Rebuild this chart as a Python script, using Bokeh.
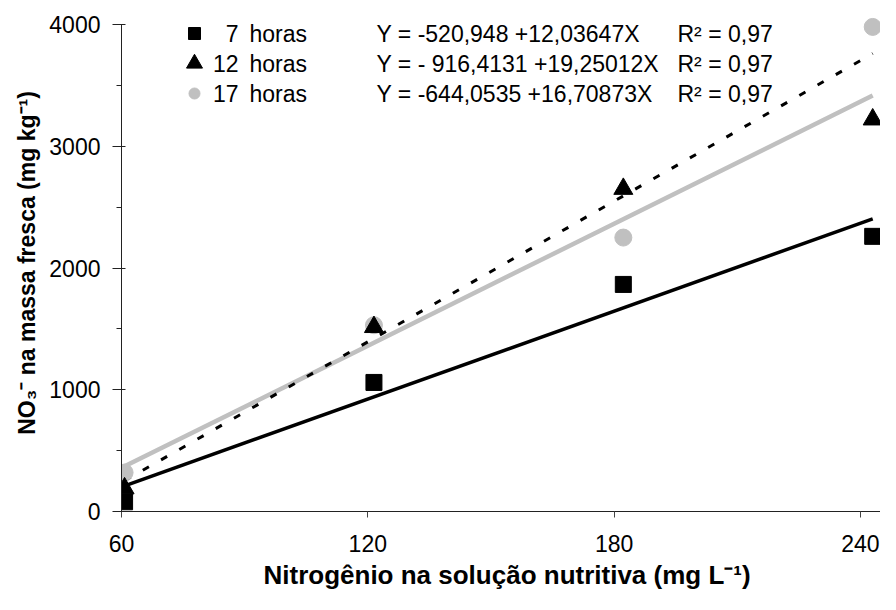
from bokeh.plotting import figure
from bokeh.models import FixedTicker, Range1d, ColumnDataSource, Title
from bokeh.embed import file_html
from bokeh.resources import INLINE
from bokeh.core.properties import value

# ---------------- data ----------------
x_nitrogen = [60.75, 121.5, 182.25, 243.0]
y_7h = [80, 1060, 1865, 2260]
y_12h = [190, 1515, 2650, 3220]
y_17h = [320, 1530, 2250, 3980]

series_hours = ["7", "12", "17"]
intercepts = [-520.948, -916.4131, -644.0535]
slopes = [12.03647, 19.25012, 16.70873]
equations = ["Y = -520,948 +12,03647X",
             "Y = - 916,4131 +19,25012X",
             "Y = -644,0535 +16,70873X"]
r2_labels = ["R\u00b2 = 0,97", "R\u00b2 = 0,97", "R\u00b2 = 0,97"]

x_ticks = [60, 120, 180, 240]
y_ticks = [0, 1000, 2000, 3000, 4000]
y_minor = [500, 1500, 2500, 3500]

# ---------------- layout constants ----------------
W, H = 880, 594
FL, FR, FT, FB = 121, 880, 14, 511          # frame edges in figure pixels
PX_PER_UNIT_Y = 487 / 4000                   # 4000 sits 487 px above 0
X0, X1 = 60, 244.9
Y0 = 0
Y1 = (FB - FT) / PX_PER_UNIT_Y               # a little head-room above 4000
FONT = "Liberation Sans"
GRAY = "#c0c0c0"


def dx(px):
    return X0 + (px - FL) * (X1 - X0) / (FR - FL)


def dy(py):
    return Y0 + (FB - py) * (Y1 - Y0) / (FB - FT)


p = figure(width=W, height=H, output_backend="svg", toolbar_location=None,
           x_range=Range1d(X0, X1), y_range=Range1d(Y0, Y1),
           min_border_left=FL, min_border_right=W - FR,
           min_border_top=FT, min_border_bottom=H - FB)
p.outline_line_color = None
p.xgrid.visible = False
p.ygrid.visible = False
p.background_fill_color = "white"
p.border_fill_color = "white"

# ---------------- axes ----------------
xa = p.xaxis[0]
xa.ticker = FixedTicker(ticks=x_ticks, minor_ticks=[])
xa.axis_line_color = "#222222"
xa.major_tick_line_color = "#444444"
xa.major_tick_out = 6
xa.major_tick_in = 0
xa.minor_tick_line_color = None
xa.major_label_text_font = FONT
xa.major_label_text_font_size = "23px"
xa.major_label_text_color = "black"
xa.major_label_standoff = 17

ya = p.yaxis[0]
ya.ticker = FixedTicker(ticks=y_ticks, minor_ticks=y_minor)
ya.bounds = (y_ticks[0], y_ticks[-1])
ya.axis_line_color = "#222222"
ya.major_tick_line_color = "#222222"
ya.major_tick_out = 9
ya.major_tick_in = 4
ya.minor_tick_line_color = "#222222"
ya.minor_tick_out = 5
ya.minor_tick_in = 0
ya.major_label_text_font = FONT
ya.major_label_text_font_size = "23px"
ya.major_label_text_color = "black"
ya.major_label_standoff = 12
ya.axis_label = "NO\u2083\u207b na massa fresca (mg kg\u207b\u00b9)"
ya.axis_label_text_font = FONT
ya.axis_label_text_font_style = "bold"
ya.axis_label_text_font_size = "23px"
ya.axis_label_text_color = "black"
ya.axis_label_standoff = 6

xtitle = Title(text="Nitrog\u00eanio na solu\u00e7\u00e3o nutritiva (mg L\u207b\u00b9)",
               align="left", offset=142, standoff=7,
               text_font=FONT, text_font_style="bold",
               text_font_size="26px", text_color="black")
p.add_layout(xtitle, "below")

# ---------------- trend lines (from the equations shown) ----------------
x_fit = [x_nitrogen[0], x_nitrogen[-1]]
fit = [[a + b * xv for xv in x_fit] for a, b in zip(intercepts, slopes)]

p.line(x_fit, fit[2], line_color=GRAY, line_width=4.5)
p.line(x_fit, fit[0], line_color="black", line_width=3.5)
p.line(x_fit, fit[1], line_color="black", line_width=3, line_dash="7 14")

# ---------------- observed points ----------------
p.scatter(x_nitrogen, y_17h, marker="circle", size=17,
          fill_color=GRAY, line_color=GRAY)
p.scatter(x_nitrogen, y_12h, marker="triangle", size=19,
          fill_color="black", line_color="black")
p.scatter(x_nitrogen, y_7h, marker="square", size=16,
          fill_color="black", line_color="black")

# ---------------- in-plot legend with equations ----------------
row_py = [33, 63, 93]
leg_y = [dy(v) for v in row_py]
mk = ["square", "triangle", "circle"]
mk_size = [12, 16, 11]
mk_col = ["black", "black", GRAY]
for i in range(3):
    p.scatter([dx(194)], [leg_y[i]], marker=mk[i], size=mk_size[i],
              fill_color=mk_col[i], line_color=mk_col[i])

src = ColumnDataSource(dict(
    hx=[dx(238)] * 3, tx=[dx(249)] * 3, ex=[dx(376)] * 3, rx=[dx(677)] * 3,
    y=leg_y, hours=series_hours, horas=["horas"] * 3,
    eq=equations, r2=r2_labels))
common = dict(text_font=value(FONT), text_font_size="23px",
              text_color="black", text_baseline="middle", source=src)
p.text(x="hx", y="y", text="hours", text_align="right", **common)
p.text(x="tx", y="y", text="horas", text_align="left", **common)
p.text(x="ex", y="y", text="eq", text_align="left", **common)
p.text(x="rx", y="y", text="r2", text_align="left", **common)

open("out.html", "w").write(file_html(p, INLINE))
